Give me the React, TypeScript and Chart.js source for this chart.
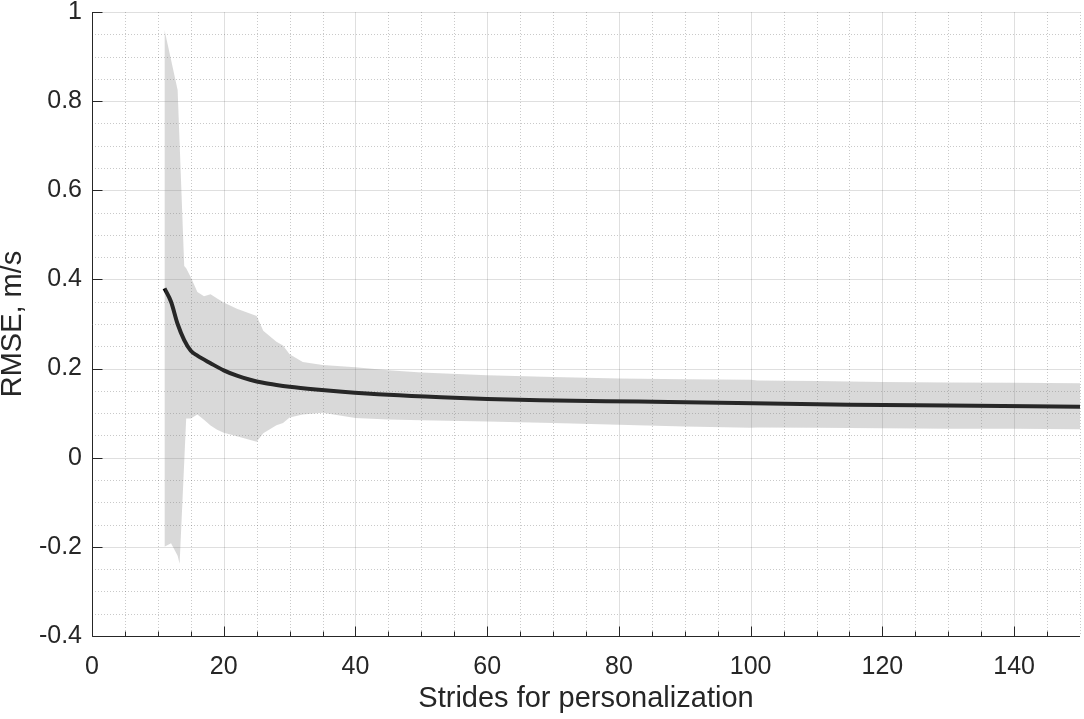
import React, { useEffect, useRef } from "react";
import { Chart, registerables } from "chart.js";

Chart.register(...registerables);

// ---- data ----
const bandX = [11, 12, 13, 13.3, 14, 14.3, 15, 16, 17, 18, 19, 20, 22, 25, 26, 28, 29, 30, 32, 35, 40, 45, 50, 60, 70, 80, 90, 100, 101, 110, 120, 130, 140, 150];
const bandUpper = [0.96, 0.893, 0.825, 0.707, 0.43, 0.425, 0.405, 0.372, 0.362, 0.367, 0.357, 0.348, 0.334, 0.318, 0.285, 0.26, 0.252, 0.232, 0.215, 0.208, 0.203, 0.196, 0.191, 0.185, 0.181, 0.178, 0.176, 0.175, 0.173, 0.172, 0.17, 0.169, 0.168, 0.167];
const bandLower = [-0.2, -0.192, -0.22, -0.238, -0.01, 0.088, 0.088, 0.097, 0.085, 0.072, 0.063, 0.056, 0.048, 0.036, 0.055, 0.073, 0.078, 0.09, 0.097, 0.101, 0.089, 0.086, 0.084, 0.081, 0.078, 0.074, 0.07, 0.067, 0.068, 0.067, 0.066, 0.065, 0.065, 0.064];

const meanX = [11, 12, 13, 14, 15, 16, 18, 20, 22, 24, 26, 28, 30, 34, 38, 45, 53, 60, 68, 83, 98, 115, 130, 150];
const meanY = [0.38, 0.35, 0.3, 0.264, 0.24, 0.229, 0.212, 0.196, 0.184, 0.175, 0.168, 0.163, 0.159, 0.153, 0.148, 0.141, 0.1355, 0.132, 0.129, 0.126, 0.123, 0.119, 0.117, 0.1145];

const xTickValues = [0, 20, 40, 60, 80, 100, 120, 140];
const yTickValues = [-0.4, -0.2, 0, 0.2, 0.4, 0.6, 0.8, 1];

const X_MIN = 0;
const X_MAX = 150;
const Y_MIN = -0.4;
const Y_MAX = 1;
const X_MINOR = 5;
const Y_MINOR = 0.05;

const FONT = "'Liberation Sans', Arial, Helvetica, sans-serif";
const AXIS_COLOR = "#262626";

const matlabAxes = {
  id: "matlabAxes",
  beforeDatasetsDraw(chart: any) {
    const { ctx, chartArea, scales } = chart;
    const { left, right, top, bottom } = chartArea;
    const x = scales.x;
    const y = scales.y;
    ctx.save();
    ctx.lineWidth = 1;
    // minor dotted grid
    ctx.strokeStyle = "rgba(38,38,38,0.25)";
    ctx.setLineDash([1, 2]);
    const nx = Math.round((X_MAX - X_MIN) / X_MINOR);
    for (let i = 0; i <= nx; i++) {
      const v = X_MIN + i * X_MINOR;
      if (xTickValues.includes(v)) continue;
      const px = Math.round(x.getPixelForValue(v)) + 0.5;
      ctx.beginPath();
      ctx.moveTo(px, top);
      ctx.lineTo(px, bottom);
      ctx.stroke();
    }
    const ny = Math.round((Y_MAX - Y_MIN) / Y_MINOR);
    for (let i = 0; i <= ny; i++) {
      const v = Y_MIN + i * Y_MINOR;
      if (yTickValues.some((t) => Math.abs(t - v) < 1e-6)) continue;
      const py = Math.round(y.getPixelForValue(v)) + 0.5;
      ctx.beginPath();
      ctx.moveTo(left, py);
      ctx.lineTo(right, py);
      ctx.stroke();
    }
    // major solid grid
    ctx.setLineDash([]);
    ctx.strokeStyle = "rgba(38,38,38,0.15)";
    for (const v of xTickValues) {
      const px = Math.round(x.getPixelForValue(v)) + 0.5;
      ctx.beginPath();
      ctx.moveTo(px, top);
      ctx.lineTo(px, bottom);
      ctx.stroke();
    }
    for (const v of yTickValues) {
      const py = Math.round(y.getPixelForValue(v)) + 0.5;
      ctx.beginPath();
      ctx.moveTo(left, py);
      ctx.lineTo(right, py);
      ctx.stroke();
    }
    ctx.restore();
  },
  afterDatasetsDraw(chart: any) {
    const { ctx, chartArea, scales } = chart;
    const { left, right, top, bottom } = chartArea;
    const x = scales.x;
    const y = scales.y;
    ctx.save();
    ctx.strokeStyle = AXIS_COLOR;
    ctx.lineWidth = 1;
    const bx = Math.round(left) + 0.5;
    const by = Math.round(bottom) + 0.5;
    ctx.beginPath();
    ctx.moveTo(bx, top);
    ctx.lineTo(bx, by);
    ctx.lineTo(right, by);
    ctx.stroke();
    // x ticks (inward)
    const nx = Math.round((X_MAX - X_MIN) / X_MINOR);
    for (let i = 0; i < nx; i++) {
      const v = X_MIN + i * X_MINOR;
      const major = xTickValues.includes(v);
      const px = Math.round(x.getPixelForValue(v)) + 0.5;
      ctx.beginPath();
      ctx.moveTo(px, by);
      ctx.lineTo(px, by - (major ? 10 : 5));
      ctx.stroke();
    }
    // y ticks (inward)
    for (const v of yTickValues) {
      const py = Math.round(y.getPixelForValue(v)) + 0.5;
      ctx.beginPath();
      ctx.moveTo(bx, py);
      ctx.lineTo(bx + 10, py);
      ctx.stroke();
    }
    ctx.restore();
  },
};

export default function App() {
  const canvasRef = useRef<HTMLCanvasElement | null>(null);

  useEffect(() => {
    if (!canvasRef.current) return;
    const chart = new Chart(canvasRef.current, {
      type: "line",
      data: {
        datasets: [
          {
            label: "upper",
            data: bandX.map((v, i) => ({ x: v, y: bandUpper[i] })),
            borderWidth: 0,
            borderColor: "transparent",
            pointRadius: 0,
            fill: "+1",
            backgroundColor: "rgba(128,128,128,0.3)",
            tension: 0,
          },
          {
            label: "lower",
            data: bandX.map((v, i) => ({ x: v, y: bandLower[i] })),
            borderWidth: 0,
            borderColor: "transparent",
            pointRadius: 0,
            fill: false,
            tension: 0,
          },
          {
            label: "mean",
            data: meanX.map((v, i) => ({ x: v, y: meanY[i] })),
            borderColor: "#000000",
            borderWidth: 4,
            pointRadius: 0,
            fill: false,
            cubicInterpolationMode: "monotone",
          },
        ],
      },
      options: {
        animation: false,
        responsive: true,
        maintainAspectRatio: false,
        layout: { padding: { top: 12, right: 4, left: 0, bottom: 0 } },
        plugins: {
          legend: { display: false },
          tooltip: { enabled: false },
        },
        scales: {
          x: {
            type: "linear",
            min: X_MIN,
            max: X_MAX,
            afterBuildTicks: (s: any) => {
              s.ticks = xTickValues.map((v) => ({ value: v }));
            },
            afterFit: (s: any) => {
              s.height = 83;
              s.paddingLeft = 0;
              s.paddingRight = 0;
            },
            ticks: {
              autoSkip: false,
              maxRotation: 0,
              padding: 16,
              color: AXIS_COLOR,
              font: { family: FONT, size: 25 },
              callback: (v: any) => String(v),
            },
            grid: { display: false, drawTicks: false },
            border: { display: false },
            title: {
              display: true,
              text: "Strides for personalization",
              color: AXIS_COLOR,
              font: { family: FONT, size: 29 },
              padding: { top: 0, bottom: 3 },
            },
          },
          y: {
            type: "linear",
            min: Y_MIN,
            max: Y_MAX,
            afterBuildTicks: (s: any) => {
              s.ticks = yTickValues.map((v) => ({ value: v }));
            },
            afterFit: (s: any) => {
              s.width = 92;
              s.paddingTop = 0;
              s.paddingBottom = 0;
            },
            ticks: {
              autoSkip: false,
              padding: 10,
              color: AXIS_COLOR,
              font: { family: FONT, size: 25 },
              callback: (v: any) => String(v),
            },
            grid: { display: false, drawTicks: false },
            border: { display: false },
            title: {
              display: true,
              text: "RMSE, m/s",
              color: AXIS_COLOR,
              font: { family: FONT, size: 29, lineHeight: 0.86 },
              padding: { top: 1, bottom: 0 },
            },
          },
        },
      },
      plugins: [matlabAxes],
    });
    return () => chart.destroy();
  }, []);

  return (
    <div style={{ position: "absolute", left: 0, top: 0, width: 1084, height: 719, background: "#fff" }}>
      <canvas ref={canvasRef} />
    </div>
  );
}
